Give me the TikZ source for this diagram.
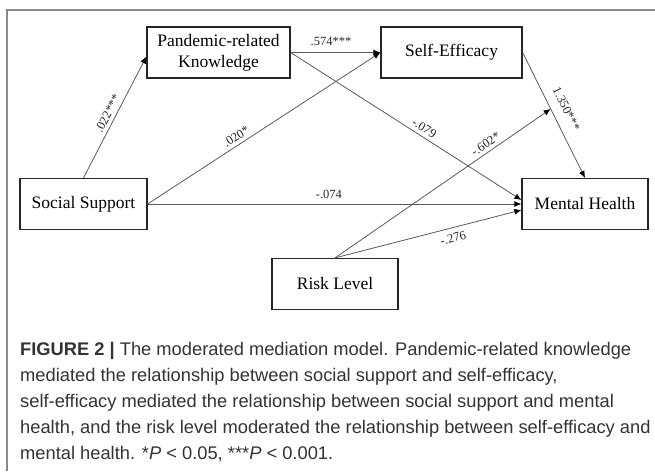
\documentclass[tikz,border=0pt]{standalone}
\usepackage{fontspec}
\setmainfont{Liberation Serif}
\newfontfamily\capfont{Liberation Sans}
\usetikzlibrary{arrows.meta,calc}
\definecolor{linegray}{HTML}{5A5A5A}
\definecolor{framegray}{HTML}{8A8A8A}
\definecolor{captext}{HTML}{333333}
\tikzset{
  varbox/.style={draw=black!85, line width=1.2pt, minimum width=#1, minimum height=51pt, inner sep=1pt, align=center, font=\fontsize{17.5}{21}\selectfont},
  varbox/.default=127pt,
  path/.style={draw=linegray, line width=0.8pt, -{Latex[length=7pt,width=6pt,fill=black,color=black]}},
  coef/.style={font=\fontsize{12.5}{14}\selectfont, text=black!85, inner sep=3.5pt}
}
\begin{document}
\begin{tikzpicture}[x=1pt,y=-1pt]
\useasboundingbox (0,0) rectangle (655,471);
% frame
\draw[framegray, line width=1.6pt] (7,471) -- (7,10) -- (655,10);
% boxes
\node[varbox=143pt] (pk) at (218.5,52.5) {Pandemic-related\\Knowledge};
\node[varbox=141pt] (se) at (451.5,52.5) {Self-Efficacy};
\node[varbox=127pt] (ss) at (83.5,204) {Social Support};
\node[varbox=126pt] (mh) at (585,204) {Mental Health};
\node[varbox=126pt] (rl) at (335,284) {Risk Level};
% auxiliary coordinates
\coordinate (pkin) at ($(pk.west)+(0,4)$);
\coordinate (mhin1) at ($(mh.west)+(0,-4)$);
\coordinate (mhin2) at ($(mh.west)+(0,6)$);
\coordinate (mod) at ($(se.east)!0.45!(mh.north)$);
% paths
\draw[path] (ss.north) -- node[coef, sloped, above, pos=0.5] {.022***} (pkin);
\draw[path] (pk.east) -- node[coef, above=3pt, pos=0.45] {.574***} (se.west);
\draw[path] (ss.east) -- node[coef, sloped, above, pos=0.4] {.020*} (se.west);
\draw[path] (pk.east) -- node[coef, sloped, above, pos=0.56] {-.079} (mhin1);
\draw[path] (ss.east) -- node[coef, above=1pt, pos=0.485] {-.074} (mh.west);
\draw[path] (se.east) -- node[coef, sloped, above=6pt, pos=0.5] {1.350***} (mh.north);
\draw[path] (rl.north) -- node[coef, sloped, above, pos=0.72] {-.602*} (mod);
\draw[path] (rl.north) -- node[coef, sloped, below=2pt, pos=0.62] {-.276} (mhin2);
% caption
\node[anchor=north west, inner sep=0pt, align=left, text=captext,
      font=\capfont\fontsize{18.3}{26}\selectfont] (cap) at (20,342)
{\textbf{FIGURE 2 |} The moderated mediation model. Pandemic-related knowledge\\
mediated the relationship between social support and self-efficacy,\\
self-efficacy mediated the relationship between social support and mental\\
health, and the risk level moderated the relationship between self-efficacy and\\
mental health. *\textit{P} < 0.05, ***\textit{P} < 0.001.};
\end{tikzpicture}
\end{document}
